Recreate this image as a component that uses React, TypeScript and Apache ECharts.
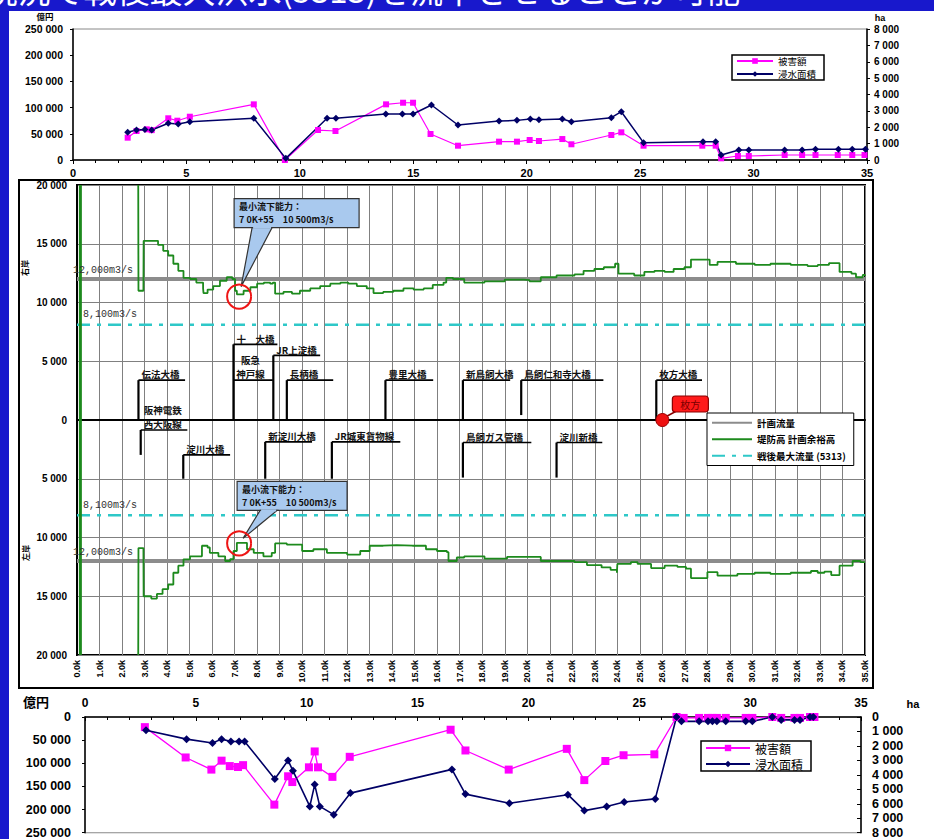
import React, { useEffect, useRef } from 'react';
import * as echarts from 'echarts';

const W = 934;
const H = 839;
const FONT = "'Liberation Sans', 'Noto Sans CJK JP', sans-serif";
const JFONT = "'Noto Sans CJK JP', 'Liberation Sans', sans-serif";
const MONO = "'Liberation Mono', 'DejaVu Sans Mono', monospace";

// ---------- top panel: damage (億円) and flooded area (ha) ----------
const topDamage: number[][] = [
  [2.41, 42600], [2.8, 55300], [3.25, 58500], [3.47, 57000], [4.2, 79600], [4.6, 75000], [5.15, 82600],
  [7.97, 106200], [9.34, 0], [10.8, 57200], [11.57, 55300], [13.8, 106200], [14.55, 109300], [14.99, 109300],
  [15.76, 49600], [16.97, 27300], [18.78, 35000], [19.57, 35000], [20.13, 38200], [20.54, 36300],
  [21.57, 40000], [21.97, 30000], [23.73, 47700], [24.17, 52800], [25.15, 27300], [27.74, 27300],
  [28.33, 27300], [28.57, 3200], [29.31, 7600], [29.79, 7600], [31.37, 9500], [32.14, 9500],
  [32.73, 9500], [33.71, 9500], [34.35, 9500], [34.89, 9500],
];
const topArea: number[][] = [
  [2.41, 1690], [2.8, 1830], [3.17, 1870], [3.47, 1830], [4.2, 2240], [4.64, 2200], [5.15, 2340],
  [7.97, 2545], [9.38, 100], [11.2, 2545], [11.59, 2545], [13.79, 2810], [14.52, 2810], [14.99, 2810],
  [15.8, 3360], [16.97, 2137], [18.78, 2380], [19.57, 2420], [20.16, 2500], [20.54, 2460], [21.57, 2500],
  [21.97, 2340], [23.73, 2585], [24.17, 2950], [25.15, 1060], [27.77, 1120], [28.33, 1120], [28.57, 305],
  [29.35, 610], [29.79, 610], [31.37, 610], [32.14, 610], [32.73, 650], [33.74, 650], [34.35, 650], [34.93, 650],
];

// ---------- middle panel: flow capacity (m3/s) ----------
const planFlow = 12000;
const postwarMaxFlow = 8100;
const rightBank: number[][] = [
  [2.72, 20000], [2.73, 11000], [2.95, 11000], [2.96, 15250], [3.4, 15250], [3.6, 14900], [3.83, 14400],
  [4.05, 14000], [4.28, 13300], [4.5, 12700], [4.73, 12100], [5.02, 12000], [5.3, 11700], [5.6, 11200],
  [5.62, 10800], [5.8, 11100], [6.05, 11400], [6.35, 11850], [6.65, 12150], [6.9, 12000], [7.02, 11000],
  [7.1, 10700], [7.4, 11000], [7.7, 11300], [8.0, 11600], [8.3, 11700], [8.58, 11600], [8.7, 11700],
  [8.8, 10750], [9.17, 10900], [9.55, 10750], [9.9, 11000], [10.36, 11200], [10.8, 11400], [11.25, 11600],
  [11.7, 11700], [12.05, 11600], [12.43, 11400], [12.87, 11200], [13.17, 10800], [13.6, 10900],
  [14.05, 11000], [14.5, 11200], [14.95, 11100], [15.4, 11200], [15.8, 11500], [16.28, 11700],
  [16.4, 12100], [16.7, 12000], [17.2, 11700], [18.1, 11800], [19.0, 11950], [19.85, 11900], [20.1, 11800],
  [20.6, 12150], [21.3, 12300], [22.1, 12400], [22.5, 12700], [22.98, 12850], [23.4, 13000], [23.9, 13300],
  [24.05, 12450], [24.4, 12450], [24.75, 12300], [25.2, 12600], [25.65, 12700], [26.1, 12600],
  [26.5, 12850], [26.98, 13000], [27.27, 13650], [27.87, 13650], [28.1, 13200], [28.45, 13450],
  [29.27, 13300], [30.1, 13200], [30.8, 13300], [31.7, 13200], [32.45, 13100], [32.9, 13200],
  [33.4, 13350], [33.6, 13350], [33.87, 12600], [34.4, 12450], [34.6, 12150], [34.9, 12350], [35.0, 12250],
];
const leftBank: number[][] = [
  [2.72, -20000], [2.73, -10900], [2.95, -10900], [2.96, -15000], [3.3, -15200], [3.55, -14800],
  [3.8, -14400], [4.05, -14000], [4.28, -13000], [4.5, -12400], [4.73, -11860], [5.02, -11600],
  [5.3, -11600], [5.55, -10700], [5.8, -10850], [5.9, -11300], [6.28, -11600], [6.58, -12000],
  [6.8, -11850], [6.95, -11150], [7.1, -10450], [7.55, -11000], [7.85, -11300], [8.28, -11600],
  [8.65, -11300], [8.8, -10500], [9.32, -10600], [9.9, -10600], [10.0, -11150], [10.5, -11000],
  [11.1, -11300], [12.0, -11450], [12.58, -11150], [13.0, -10700], [13.6, -10650], [14.2, -10700],
  [14.9, -10700], [15.5, -11000], [15.99, -11150], [16.43, -11250], [16.5, -12000], [16.87, -11700],
  [17.2, -11600], [17.8, -11600], [18.1, -11800], [18.7, -11800], [19.1, -11650], [19.85, -11650],
  [20.6, -12000], [21.3, -12000], [22.1, -12100], [22.65, -12350], [23.3, -12550], [23.7, -12750],
  [23.98, -13000], [24.0, -12250], [24.6, -12100], [24.9, -12250], [25.5, -12600], [26.1, -12400],
  [26.67, -12500], [27.05, -12650], [27.27, -13450], [27.8, -13450], [28.0, -12950], [28.45, -13250],
  [29.33, -13100], [30.1, -13000], [30.8, -13100], [31.7, -13000], [32.6, -12850], [32.9, -13000],
  [33.2, -12900], [33.5, -13200], [33.87, -12400], [34.45, -12000], [34.8, -12100], [35.0, -12150],
];
const edgeKm = 0.15;
const minCapKm = 7.2;
const minCapFlow = 10500;
const hirakataKm = 26.0;

// bridges: name, position (km), deck level, foot level, end of leader (km)
const bridgeNames = [
  '伝法大橋', '十　大橋', '阪急\n神戸線', 'JR上淀橋', '長柄橋', '豊里大橋', '新鳥飼大橋', '鳥飼仁和寺大橋', '枚方大橋',
  '阪神電鉄\n西大阪線', '淀川大橋', '新淀川大橋', 'JR城東貨物線', '鳥飼ガス管橋', '淀川新橋',
];
const bridgeKm = [2.73, 6.95, 6.95, 8.72, 9.32, 13.7, 17.14, 19.73, 25.73, 2.83, 4.72, 8.36, 11.32, 17.14, 21.3];
const bridgeLevel = [3390, 6440, 3390, 5500, 3390, 3390, 3390, 3390, 3390, -850, -2970, -1860, -1860, -1920, -1920];
const bridgeFoot = [0, 0, 3390, 0, 0, 0, 0, 420, 0, -2970, -5000, -5000, -5000, -4900, -4900];
const bridgeEnd = [4.8, 8.9, 8.7, 10.8, 11.38, 15.82, 19.24, 23.38, 27.76, 4.9, 6.8, 10.44, 14.36, 20.18, 23.33];

// ---------- bottom panel (inverted) ----------
const botDamage: number[][] = [
  [2.7, 21900], [4.54, 87400], [5.7, 113600], [6.16, 94300], [6.53, 106000], [6.9, 108000], [7.13, 104000],
  [8.54, 189300], [9.16, 128000], [9.35, 140500], [10.1, 108700], [10.36, 74400], [10.51, 108700],
  [11.16, 129300], [11.94, 86000], [16.49, 27500], [17.16, 72300], [19.11, 113600], [21.73, 68800],
  [22.52, 136300], [23.47, 95000], [24.29, 82600], [25.68, 80600], [26.68, 0], [27.0, 2000], [27.7, 2000],
  [28.1, 2000], [28.3, 2000], [28.5, 2000], [28.9, 2000], [29.8, 2000], [30.1, 2000], [31.0, 0],
  [31.4, 2000], [32.0, 2000], [32.25, 2000], [32.7, 0], [32.9, 0],
];
const botArea: number[][] = [
  [2.75, 920], [4.58, 1530], [5.75, 1800], [6.16, 1530], [6.58, 1690], [6.95, 1690], [7.2, 1690],
  [8.56, 4280], [9.16, 3000], [9.38, 3720], [10.14, 6180], [10.36, 4670], [10.59, 6180], [11.22, 6750],
  [11.97, 5260], [16.55, 3620], [17.16, 5330], [19.14, 5960], [21.78, 5370], [22.52, 6470], [23.53, 6180],
  [24.32, 5880], [25.72, 5660], [26.68, 0], [26.9, 300], [27.7, 300], [28.1, 300], [28.3, 300], [28.5, 300],
  [28.9, 300], [29.8, 300], [30.1, 300], [31.0, 0], [31.4, 200], [32.0, 200], [32.25, 200], [32.7, 0], [32.85, 0],
];

const fmtNum = (v: number) => String(Math.abs(Math.round(v))).replace(/\B(?=(\d{3})+(?!\d))/g, ' ');

const PINK = '#ff00ff';
const NAVY = '#000066';
const GREEN = '#1d8a1d';
const GRAY = '#8c8c8c';
const CYAN = '#2ec8c8';

const lbl = (size: number, margin: number, extra: any = {}) => ({
  color: '#000', fontWeight: 'bold', fontFamily: FONT, fontSize: size, margin, ...extra,
});
const blackLine = (w: number) => ({ show: true, lineStyle: { color: '#000', width: w } });

function txt(text: string, x: number, y: number, size: number, opts: any = {}) {
  return {
    type: 'text', x, y, z: 50,
    rotation: opts.rotation || 0,
    style: {
      text, fill: opts.fill || '#000', fontSize: size, fontFamily: opts.font || JFONT,
      fontWeight: opts.weight || 'bold',
      align: opts.align || 'center', textAlign: opts.align || 'center',
      verticalAlign: 'middle', textVerticalAlign: 'middle',
    },
  };
}

function textEl(text: string, x: number, y: number, al: string, va: string) {
  return {
    type: 'text', x, y,
    style: {
      text, fill: '#111', fontSize: 9.5, fontWeight: 'bold', fontFamily: JFONT,
      align: al, textAlign: al, verticalAlign: va, textVerticalAlign: va,
    },
  };
}

function buildOption() {
  const bridgeData = bridgeKm.map((k, i) => [k, bridgeLevel[i], bridgeFoot[i], bridgeEnd[i], i]);

  return {
    animation: false,
    textStyle: { fontFamily: FONT },
    grid: [
      { left: 73, top: 29, width: 794, height: 131, show: true, borderColor: '#888', borderWidth: 1 },
      { left: 77, top: 185, width: 788, height: 470, show: true, borderColor: '#000', borderWidth: 2 },
      { left: 85, top: 717, width: 776, height: 121, show: true, borderColor: '#888', borderWidth: 1 },
    ],
    xAxis: [
      {
        type: 'value', gridIndex: 0, min: 0, max: 35, interval: 5,
        axisLine: blackLine(1.5),
        axisTick: { show: true, length: 4, lineStyle: { color: '#000' } },
        minorTick: { show: true, splitNumber: 5, length: 3, lineStyle: { color: '#000' } },
        splitLine: { show: false },
        axisLabel: lbl(11, 7),
      },
      {
        type: 'value', gridIndex: 1, min: 0, max: 35, interval: 1,
        axisLine: blackLine(2), axisTick: { show: false },
        splitLine: { show: true, lineStyle: { color: '#808080', width: 1 } },
        axisLabel: lbl(9, 5, { rotate: 90, formatter: (v: number) => v.toFixed(1) + 'k' }),
      },
      {
        type: 'value', gridIndex: 2, position: 'top', min: 0, max: 35, interval: 5,
        axisLine: blackLine(1.5),
        axisTick: { show: true, inside: true, length: 4, lineStyle: { color: '#000' } },
        minorTick: { show: true, splitNumber: 5, length: 3, lineStyle: { color: '#000' } },
        splitLine: { show: false },
        axisLabel: lbl(12, 8),
      },
    ],
    yAxis: [
      {
        type: 'value', gridIndex: 0, min: 0, max: 250000, interval: 50000,
        axisLine: blackLine(1.5), axisTick: { show: true, length: 3, lineStyle: { color: '#000' } },
        splitLine: { show: false }, axisLabel: lbl(10.5, 10, { formatter: fmtNum }),
      },
      {
        type: 'value', gridIndex: 0, position: 'right', min: 0, max: 8000, interval: 1000,
        axisLine: blackLine(1.5), axisTick: { show: true, length: 3, lineStyle: { color: '#000' } },
        splitLine: { show: false }, axisLabel: lbl(10, 7, { formatter: fmtNum }),
      },
      {
        type: 'value', gridIndex: 1, min: -20000, max: 20000, interval: 5000,
        axisLine: blackLine(2), axisTick: { show: false },
        splitLine: { show: true, lineStyle: { color: '#808080', width: 1 } },
        axisLabel: lbl(10, 10, { formatter: fmtNum }),
      },
      {
        type: 'value', gridIndex: 2, inverse: true, min: 0, max: 250000, interval: 50000,
        axisLine: blackLine(1.5), axisTick: { show: true, length: 3, lineStyle: { color: '#000' } },
        splitLine: { show: false }, axisLabel: lbl(12.5, 14, { formatter: fmtNum }),
      },
      {
        type: 'value', gridIndex: 2, position: 'right', inverse: true, min: 0, max: 8000, interval: 1000,
        axisLine: blackLine(1.5), axisTick: { show: true, inside: true, length: 4, lineStyle: { color: '#000' } },
        splitLine: { show: false }, axisLabel: lbl(12.5, 11, { formatter: fmtNum }),
      },
    ],
    legend: [
      {
        left: 732, top: 55, orient: 'vertical', selectedMode: false,
        data: ['被害額', '浸水面積'],
        backgroundColor: '#fff', borderColor: '#000', borderWidth: 1.5,
        padding: [1, 8, 1, 4], itemGap: 3, itemWidth: 36, itemHeight: 7,
        textStyle: { fontSize: 9.5, color: '#000', fontFamily: JFONT, lineHeight: 10 },
      },
      {
        left: 707, top: 413, orient: 'vertical', selectedMode: false,
        data: ['計画流量', '堤防高 計画余裕高', '戦後最大流量 (5313)'],
        backgroundColor: '#fff', borderColor: '#000', borderWidth: 1,
        padding: [5, 8, 5, 4], itemGap: 7, itemWidth: 40, itemHeight: 6,
        itemStyle: { opacity: 0 },
        textStyle: { fontSize: 9.5, color: '#000', fontWeight: 'bold', fontFamily: JFONT },
      },
      {
        left: 701, top: 741, orient: 'vertical', selectedMode: false,
        data: ['被害額', '浸水面積'],
        backgroundColor: '#fff', borderColor: '#000', borderWidth: 1.5,
        padding: [1, 8, 1, 4], itemGap: 4, itemWidth: 44, itemHeight: 8,
        textStyle: { fontSize: 12, color: '#000', fontFamily: JFONT, lineHeight: 12 },
      },
    ],
    series: [
      // top panel
      {
        name: '被害額', type: 'line', xAxisIndex: 0, yAxisIndex: 0, data: topDamage,
        symbol: 'rect', symbolSize: 6, color: PINK, lineStyle: { color: PINK, width: 1.2 },
        itemStyle: { color: PINK },
      },
      {
        name: '浸水面積', type: 'line', xAxisIndex: 0, yAxisIndex: 1, data: topArea,
        symbol: 'diamond', symbolSize: 7, color: NAVY, lineStyle: { color: NAVY, width: 1.5 },
        itemStyle: { color: NAVY },
      },
      // middle panel
      {
        name: '', type: 'line', xAxisIndex: 1, yAxisIndex: 2, data: [[0, 0], [35, 0]],
        symbol: 'none', lineStyle: { color: '#000', width: 2 }, z: 3,
      },
      {
        name: '', type: 'line', xAxisIndex: 1, yAxisIndex: 2, data: [[edgeKm, 20000], [edgeKm, -20000]],
        symbol: 'none', lineStyle: { color: GREEN, width: 3 },
      },
      ...[1, -1].map((s) => ({
        name: '計画流量', type: 'line', xAxisIndex: 1, yAxisIndex: 2,
        data: [[0, s * planFlow], [35, s * planFlow]],
        symbol: 'none', color: GRAY, lineStyle: { color: GRAY, width: 4 }, z: 2,
        markLine: {
          silent: true, symbol: 'none', lineStyle: { color: 'transparent', width: 0 },
          label: {
            show: true, position: 'insideStartTop', formatter: '12,000m3/s', color: '#333',
            fontFamily: MONO, fontSize: 10, distance: [-4, 4],
          },
          data: [{ yAxis: s * planFlow }],
        },
      })),
      ...[1, -1].map((s) => ({
        name: '戦後最大流量 (5313)', type: 'line', xAxisIndex: 1, yAxisIndex: 2,
        data: [[0, s * postwarMaxFlow], [35, s * postwarMaxFlow]],
        symbol: 'none', color: CYAN, lineStyle: { color: CYAN, width: 2.5, type: [13, 7, 4, 7] }, z: 2,
        markLine: {
          silent: true, symbol: 'none', lineStyle: { color: 'transparent', width: 0 },
          label: {
            show: true, position: 'insideStartTop', formatter: '8,100m3/s', color: '#333',
            fontFamily: MONO, fontSize: 10, distance: [6, 5],
          },
          data: [{ yAxis: s * postwarMaxFlow }],
        },
      })),
      ...[rightBank, leftBank].map((d) => ({
        name: '堤防高 計画余裕高', type: 'line', xAxisIndex: 1, yAxisIndex: 2, data: d, step: 'end',
        symbol: 'none', color: GREEN, lineStyle: { color: GREEN, width: 1.8 }, z: 4,
      })),
      {
        name: '', type: 'custom', xAxisIndex: 1, yAxisIndex: 2, data: bridgeData, z: 5, silent: true,
        renderItem: (_p: any, api: any) => {
          const k = api.value(0), lvl = api.value(1), foot = api.value(2), end = api.value(3), idx = api.value(4);
          const p0 = api.coord([k, foot]);
          const p1 = api.coord([k, lvl]);
          const p2 = api.coord([end, lvl]);
          const lines = bridgeNames[idx].split('\n');
          const two = lines.length > 1;
          const tx = two && lvl > 0 ? p1[0] + 17 : p1[0] + 3;
          const al = two && lvl > 0 ? 'center' : 'left';
          const texts = lines.map((t, i) => textEl(t, tx, p1[1] - 1 - (lines.length - 1 - i) * 14, al, 'bottom'));
          return {
            type: 'group',
            children: [
              { type: 'line', shape: { x1: p0[0], y1: p0[1], x2: p1[0], y2: p1[1] }, style: { stroke: '#000', lineWidth: 2.2 } },
              { type: 'line', shape: { x1: p1[0], y1: p1[1], x2: p2[0], y2: p2[1] }, style: { stroke: '#000', lineWidth: 1.6 } },
              ...texts,
            ],
          };
        },
      },
      {
        name: '', type: 'custom', xAxisIndex: 1, yAxisIndex: 2, z: 6, silent: true,
        data: [[minCapKm, minCapFlow], [minCapKm, -minCapFlow]],
        renderItem: (_p: any, api: any) => {
          const c = api.coord([api.value(0), api.value(1)]);
          const top = api.value(1) > 0;
          const bx = top ? c[0] - 5 : c[0] - 2;
          const by = top ? c[1] - 98 : c[1] - 62;
          const bw = top ? 125 : 110;
          const bh = 29;
          const a1 = top ? c[0] + 13 : c[0] + 21;
          const a2 = top ? c[0] + 33 : c[0] + 38;
          const tip = top ? [c[0] + 2, c[1] - 10] : [c[0] + 4, c[1] - 5];
          const fill = '#a9c9ee';
          return {
            type: 'group',
            children: [
              { type: 'rect', shape: { x: bx, y: by, width: bw, height: bh }, style: { fill, stroke: '#333', lineWidth: 1.2 } },
              { type: 'polygon', shape: { points: [[a1, by + bh], [a2, by + bh], tip] }, style: { fill, stroke: '#333', lineWidth: 1.2 } },
              { type: 'line', shape: { x1: a1 + 1, y1: by + bh, x2: a2 - 1, y2: by + bh }, style: { stroke: fill, lineWidth: 2 } },
              {
                type: 'text', x: bx + 5, y: by + 8,
                style: { text: '最小流下能力：', fill: '#111', fontSize: 9, fontWeight: 'bold', fontFamily: JFONT, align: 'left', textAlign: 'left', verticalAlign: 'middle', textVerticalAlign: 'middle' },
              },
              {
                type: 'text', x: bx + 5, y: by + 21,
                style: { text: '7 0K+55　10 500m3/s', fill: '#111', fontSize: 9, fontWeight: 'bold', fontFamily: JFONT, align: 'left', textAlign: 'left', verticalAlign: 'middle', textVerticalAlign: 'middle' },
              },
              { type: 'circle', shape: { cx: c[0], cy: c[1], r: 12 }, style: { fill: 'none', stroke: '#ee1515', lineWidth: 2 } },
            ],
          };
        },
      },
      {
        name: '', type: 'custom', xAxisIndex: 1, yAxisIndex: 2, z: 7, silent: true,
        data: [[hirakataKm, 0]],
        renderItem: (_p: any, api: any) => {
          const c = api.coord([api.value(0), api.value(1)]);
          return {
            type: 'group',
            children: [
              { type: 'line', shape: { x1: c[0] + 3, y1: c[1] - 3, x2: c[0] + 16, y2: c[1] - 10 }, style: { stroke: '#8a0000', lineWidth: 1.5 } },
              { type: 'circle', shape: { cx: c[0], cy: c[1], r: 6.5 }, style: { fill: '#ee1111', stroke: '#990000', lineWidth: 1 } },
              { type: 'rect', shape: { x: c[0] + 10, y: c[1] - 24, width: 36, height: 16, r: 3 }, style: { fill: '#ff1a1a', stroke: '#8a0000', lineWidth: 1.2 } },
              {
                type: 'text', x: c[0] + 28, y: c[1] - 16,
                style: { text: '枚方', fill: '#7a0000', fontSize: 10, fontFamily: JFONT, align: 'center', textAlign: 'center', verticalAlign: 'middle', textVerticalAlign: 'middle' },
              },
            ],
          };
        },
      },
      // bottom panel
      {
        name: '被害額', type: 'line', xAxisIndex: 2, yAxisIndex: 3, data: botDamage,
        symbol: 'rect', symbolSize: 8, color: PINK, lineStyle: { color: PINK, width: 1.3 },
        itemStyle: { color: PINK },
      },
      {
        name: '浸水面積', type: 'line', xAxisIndex: 2, yAxisIndex: 4, data: botArea,
        symbol: 'diamond', symbolSize: 8, color: NAVY, lineStyle: { color: NAVY, width: 1.6 },
        itemStyle: { color: NAVY },
      },
    ],
    graphic: {
      elements: [
        txt('現況で戦後最大洪水(5313)を流下させることが可能', 740, -11, 33, { fill: '#fff', align: 'right', weight: 'normal' }),
        {
          type: 'rect', z: 40, shape: { x: 19, y: 180, width: 854, height: 508 },
          style: { fill: 'none', stroke: '#000', lineWidth: 2 },
        },
        txt('億円', 45, 16, 8.5),
        txt('ha', 880, 18, 9, { font: FONT }),
        txt('億円', 36, 701, 13),
        txt('ha', 913, 704, 11, { font: FONT }),
        txt('右岸', 24, 268, 8, { rotation: Math.PI / 2 }),
        txt('左岸', 25, 553, 8, { rotation: Math.PI / 2 }),
      ],
    },
  };
}

export default function App() {
  const ref = useRef<HTMLDivElement>(null);
  useEffect(() => {
    if (!ref.current) return;
    const chart = echarts.init(ref.current, null, { renderer: 'svg' });
    chart.setOption(buildOption() as any);
    return () => chart.dispose();
  }, []);
  return (
    <div style={{ position: 'absolute', left: 0, top: 0, width: W, height: H, overflow: 'hidden', background: '#1818cc' }}>
      <div style={{ position: 'absolute', left: 9, top: 11, width: W - 9, height: H - 11, background: '#fff' }} />
      <div ref={ref} style={{ position: 'absolute', left: 0, top: 0, width: W, height: H }} />
    </div>
  );
}
